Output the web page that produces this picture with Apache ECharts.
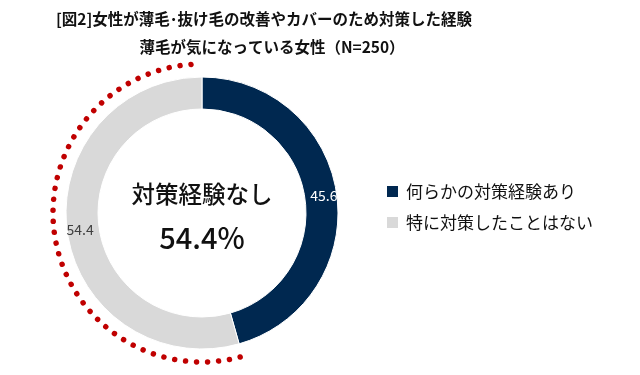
<!DOCTYPE html>
<html><head><meta charset="utf-8">
<script src="https://cdn.jsdelivr.net/npm/echarts@6/dist/echarts.min.js"></script>
<style>html,body{margin:0;padding:0;background:#fff}#c{width:640px;height:375px}</style>
</head><body><div id="c"></div>
<script>
const titleLines = ['[図2]女性が薄毛･抜け毛の改善やカバーのため対策した経験', '薄毛が気になっている女性（N=250）'];
const categories = ['何らかの対策経験あり', '特に対策したことはない'];
const values = [45.6, 54.4];
const colors = ['#002850', '#D9D9D9'];
const labelColors = ['#ffffff', '#404040'];
const centerTitle = '対策経験なし';
const centerValue = '54.4%';

const FONT = '"Noto Sans CJK JP", "Noto Sans", sans-serif';
const cx = 202, cy = 213;
const chart = echarts.init(document.getElementById('c'));
// dotted arc around the "no experience" slice (angles derived from data)
const total = values.reduce((a, b) => a + b, 0);
const startDeg = values[0] / total * 360; // from top, clockwise
const a0 = (-90 + startDeg + 1) * Math.PI / 180;
const a1 = (-90 + 360 - 2) * Math.PI / 180;
chart.setOption({
  animation: false,
  title: [
    {text: titleLines[0], left: 259, textAlign: 'center', top: 6, textStyle: {fontFamily: FONT, fontSize: 15.5, fontWeight: 'bold', color: '#111'}},
    {text: titleLines[1], left: 267, textAlign: 'center', top: 34, textStyle: {fontFamily: FONT, fontSize: 15.5, fontWeight: 'bold', color: '#111'}}
  ],
  legend: {
    orient: 'vertical', left: 380, top: 178, itemWidth: 13, itemHeight: 13, itemGap: 14, icon: 'rect',
    textStyle: {fontFamily: FONT, fontSize: 17, color: '#111', padding: [0, 0, 0, 2]},
    data: categories
  },
  series: [{
    type: 'pie', center: [cx, cy], radius: [104, 136], startAngle: 90, clockwise: true,
    avoidLabelOverlap: false,
    itemStyle: {borderColor: '#fff', borderWidth: 1},
    label: {show: true, position: 'inside', fontFamily: FONT, fontSize: 14, formatter: p => p.value.toFixed(1)},
    labelLine: {show: false},
    emphasis: {disabled: true},
    data: categories.map((c, i) => ({name: c, value: values[i], itemStyle: {color: colors[i]}, label: {color: labelColors[i]}}))
  }],
  graphic: [
    {type: 'arc', silent: true, shape: {cx: cx, cy: cy, r: 149, startAngle: a0, endAngle: a1, clockwise: true},
     style: {fill: null, stroke: '#C00000', lineWidth: 5.5, lineDash: [0.01, 11], lineCap: 'round'}},
    {type: 'text', silent: true, style: {text: centerTitle, x: cx, y: cy - 19, align: 'center', verticalAlign: 'middle', font: '500 23.5px ' + FONT, fill: '#111'}},
    {type: 'text', silent: true, style: {text: centerValue, x: cx, y: cy + 25, align: 'center', verticalAlign: 'middle', font: '500 29px ' + FONT, fill: '#111'}}
  ]
});
</script></body></html>
